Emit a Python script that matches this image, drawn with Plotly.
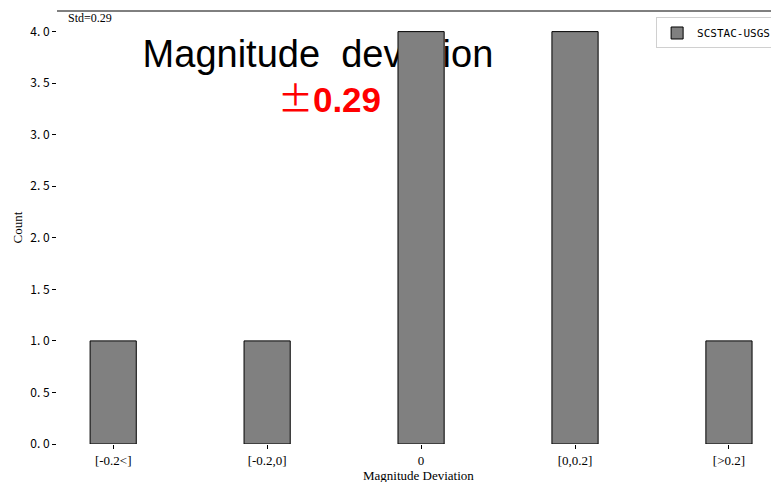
import plotly.graph_objects as go

categories = ["[-0.2<]", "[-0.2,0]", "0", "[0,0.2]", "[>0.2]"]
counts = [1, 1, 4, 4, 1]
series_name = "SCSTAC-USGS"
std_value = 0.29

x_idx = list(range(len(categories)))

fig = go.Figure()

# big overlay text, drawn beneath bars
fig.add_trace(go.Scatter(
    x=[1.33], y=[3.75], mode="text", text=["Magnitude  deviation"],
    textfont=dict(family="Liberation Sans, Arial", size=38, color="black"),
    showlegend=False, hoverinfo="skip", zorder=-1,
))
fig.add_trace(go.Scatter(
    x=[1.405], y=[3.31], mode="text",
    text=[f"<span style='font-family:Noto Sans CJK SC'>±</span><b>{std_value}</b>"],
    textfont=dict(family="Liberation Sans, Arial", size=35, color="red"),
    showlegend=False, hoverinfo="skip", zorder=-1,
))

fig.add_trace(go.Bar(
    x=x_idx, y=counts, width=0.3, name=series_name,
    marker=dict(color="#808080", line=dict(color="black", width=1)),
    showlegend=True, zorder=1,
))

serif = "Liberation Serif, Times New Roman"
fig.add_annotation(
    x=0, y=1, xref="paper", yref="paper", xanchor="left", yanchor="top",
    xshift=9, yshift=2, text=f"Std={std_value}", showarrow=False,
    font=dict(family=serif, size=12, color="black"),
)
fig.add_annotation(
    x=0.5, y=0, xref="paper", yref="paper", xanchor="center", yanchor="top",
    yshift=-22, text="Magnitude Deviation", showarrow=False,
    font=dict(family=serif, size=13, color="black"),
)
fig.add_annotation(
    x=0, y=0.5, xref="paper", yref="paper", xanchor="center", yanchor="middle",
    xshift=-40, text="Count", showarrow=False, textangle=-90,
    font=dict(family=serif, size=13, color="black"),
)

# page body has an 8px margin, so the figure is offset by 8px
fig.update_layout(
    width=771, height=474,
    margin=dict(l=49, r=0, t=3, b=38, autoexpand=False),
    plot_bgcolor="white", paper_bgcolor="white",
    legend=dict(
        x=0.996, y=0.985, xanchor="right", yanchor="top",
        bgcolor="white", bordercolor="#d0d0d0", borderwidth=1,
        font=dict(family="DejaVu Sans Mono", size=11, color="black"),
        itemwidth=30,
    ),
    showlegend=True,
)

fig.update_xaxes(
    range=[-0.365, 4.325], tickmode="array", tickvals=x_idx, ticktext=categories,
    showgrid=False, zeroline=False, showline=True, linecolor="black", linewidth=1,
    mirror=False, ticks="outside", ticklen=4, tickcolor="black", automargin=False,
    tickfont=dict(family=serif, size=13, color="black"),
)
fig.update_yaxes(
    range=[0, 4.2], tickmode="array", tickvals=[0, 0.5, 1, 1.5, 2, 2.5, 3, 3.5, 4],
    ticktext=["0. 0", "0. 5", "1. 0", "1. 5", "2. 0", "2. 5", "3. 0", "3. 5", "4. 0"],
    showgrid=False, zeroline=False, showline=True, linecolor="black", linewidth=1,
    mirror=False, ticks="outside", ticklen=4, tickcolor="black", automargin=False,
    tickfont=dict(family="Noto Sans CJK SC", size=12, color="black"),
)

# top spine
fig.add_shape(type="line", xref="paper", yref="paper", x0=0, x1=1, y0=1, y1=1,
              line=dict(color="black", width=1))

fig.write_html("out.html")
